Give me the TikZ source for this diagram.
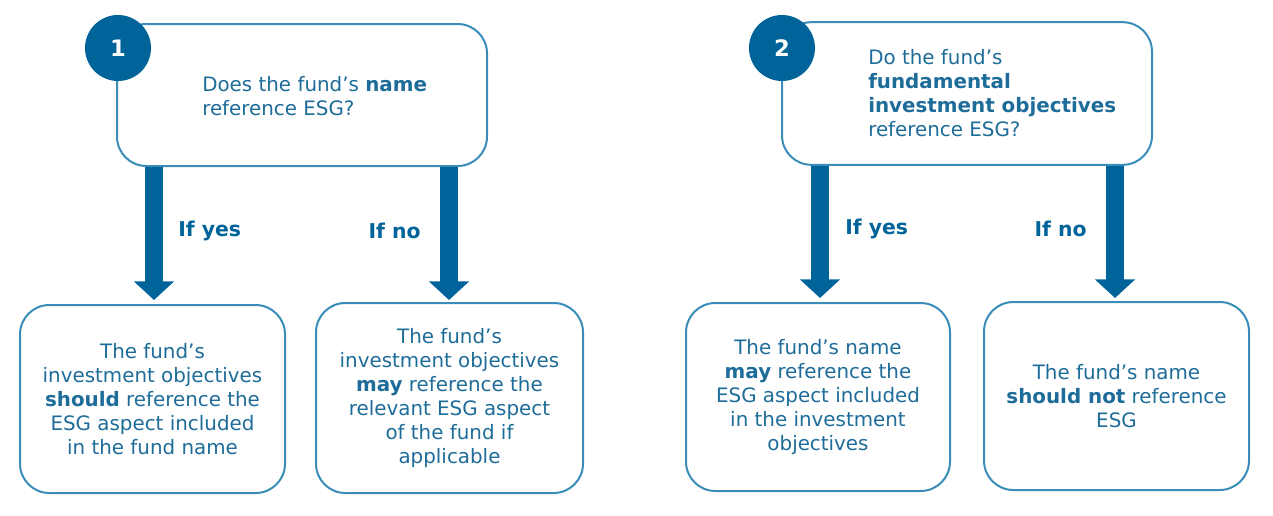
\documentclass[tikz,border=0pt]{standalone}
\usepackage{fontspec}
\setmainfont{DejaVu Sans}
\usepackage{xcolor}
\usetikzlibrary{arrows.meta,positioning,calc}
\definecolor{esgdark}{HTML}{00649A}
\definecolor{esgline}{HTML}{3A8DB8}
\definecolor{esgtext}{HTML}{1E6C99}
\tikzset{
  qbox/.style={draw=esgline,line width=1.5pt,rounded corners=22pt,fill=white},
  abox/.style={draw=esgline,line width=1.5pt,rounded corners=22pt,fill=white,
    text=esgtext,align=center,font=\fontsize{14.9}{18}\selectfont,inner sep=0pt},
  qtext/.style={text=esgtext,align=left,anchor=west,font=\fontsize{14.9}{18}\selectfont,inner sep=0pt},
  badge/.style={circle,fill=esgdark,text=white,minimum size=49.5pt,inner sep=0pt,
    font=\fontsize{17}{17}\selectfont\bfseries},
  flow/.style={draw=esgdark,line width=13.5pt,-{Triangle[width=29.5pt,length=14pt]}},
  lbl/.style={text=esgdark,font=\fontsize{15.3}{16}\selectfont\bfseries,inner sep=0pt}
}
\begin{document}
\begin{tikzpicture}[line cap=butt,line join=round,x=0.75pt,y=-0.75pt]
\useasboundingbox (0,0) rectangle (1273,515);
% questions
\node[qbox,minimum width=277.5pt,minimum height=106.5pt] (q1) at (302,95) {};
\node[qbox,minimum width=277.5pt,minimum height=107pt] (q2) at (967,93.5) {};
\node[qtext] (t1) at (202,96) {Does the fund’s \textbf{name}\\reference ESG?};
\node[qtext] (t2) at (868,93) {Do the fund’s\\\textbf{fundamental}\\\textbf{investment objectives}\\reference ESG?};
\node[badge] (n1) at (118,48) {1};
\node[badge] (n2) at (782,48) {2};
% answers
\node[abox,minimum width=198.75pt,minimum height=141pt] (a1) at (152.5,399) {The fund’s\\investment objectives\\\textbf{should} reference the\\ESG aspect included\\in the fund name};
\node[abox,minimum width=200.25pt,minimum height=142.5pt] (a2) at (449.5,398) {The fund’s\\investment objectives\\\textbf{may} reference the\\relevant ESG aspect\\of the fund if\\applicable};
\node[abox,minimum width=198pt,minimum height=141pt] (a3) at (818,397) {The fund’s name\\\textbf{may} reference the\\ESG aspect included\\in the investment\\objectives};
\node[abox,minimum width=198.75pt,minimum height=141pt] (a4) at (1116.5,396) {The fund’s name\\\textbf{should not} reference\\ESG};
% arrows
\coordinate (e1) at (154,300);
\coordinate (e2) at (449,300);
\coordinate (e3) at (820,298);
\coordinate (e4) at (1115,298);
\draw[flow] (q1.south -| e1) -- (e1);
\draw[flow] (q1.south -| e2) -- (e2);
\draw[flow] (q2.south -| e3) -- (e3);
\draw[flow] (q2.south -| e4) -- (e4);
\node[lbl,anchor=west] (y1) at (178,231) {If yes};
\node[lbl,anchor=east] (no1) at (421,231) {If no};
\node[lbl,anchor=west] (y2) at (845,229) {If yes};
\node[lbl,anchor=east] (no2) at (1087,229) {If no};
\end{tikzpicture}
\end{document}
